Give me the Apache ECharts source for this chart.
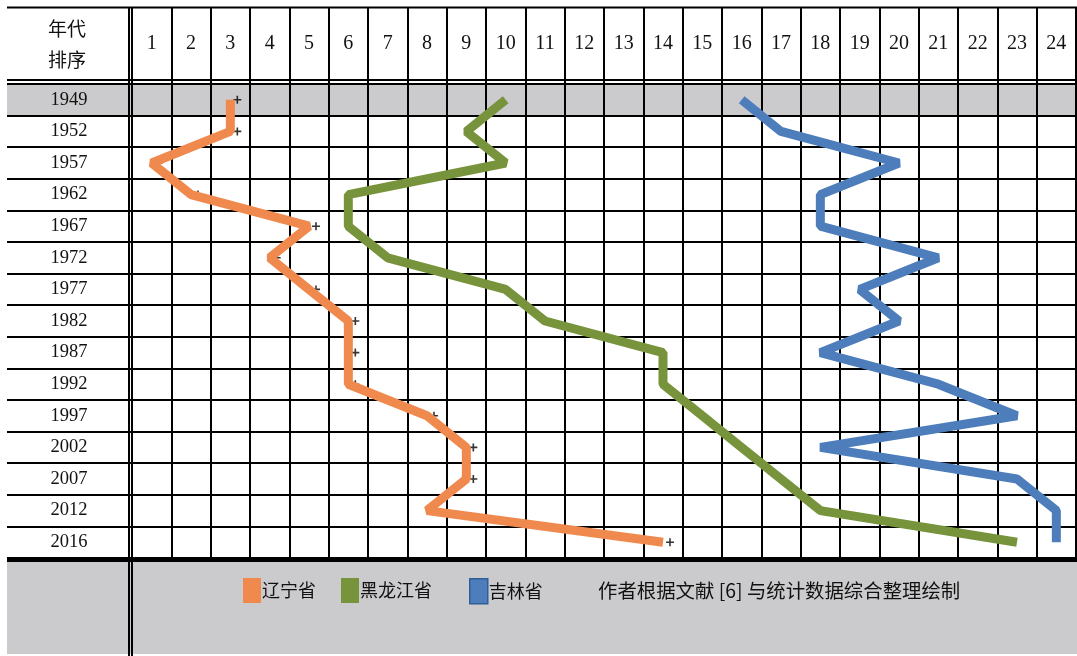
<!DOCTYPE html>
<html>
<head>
<meta charset="utf-8">
<script src="https://cdn.jsdelivr.net/npm/echarts@6/dist/echarts.min.js"></script>
<style>
html,body{margin:0;padding:0;background:#ffffff;}
#chart{width:1077px;height:656px;}
</style>
</head>
<body>
<div id="chart"></div>
<script>
// ---- data ----
const years = ['1949','1952','1957','1962','1967','1972','1977','1982','1987','1992','1997','2002','2007','2012','2016'];
const rankLabels = ['1','2','3','4','5','6','7','8','9','10','11','12','13','14','15','16','17','18','19','20','21','22','23','24'];
const liaoning     = [3, 3, 1, 2, 5, 4, 5, 6, 6, 6, 8, 9, 9, 8, 14];
const heilongjiang = [10, 9, 10, 6, 6, 7, 10, 11, 14, 14, 15, 16, 17, 18, 23];
const jilin        = [16, 17, 20, 18, 18, 21, 19, 20, 18, 21, 23, 18, 23, 24, 24];
const seriesNames  = ['辽宁省', '黑龙江省', '吉林省'];
const noteText = '作者根据文献 [6] 与统计数据综合整理绘制';
const headerTexts = ['年代', '排序'];

// ---- layout / style ----
const W = 1077, H = 656;
const gridLeft = 132, gridRight = 1, gridTop = 84, gridBottomY = 558;
const rowH = (gridBottomY - gridTop) / years.length;
const colors = ['#F0894E', '#77933C', '#4D7EBB'];
const gray = '#CBCBCD';
const ink = '#111111';
const serif = '"Liberation Serif","DejaVu Serif",serif';
const cjk = '"Noto Sans CJK SC","Noto Sans CJK JP",sans-serif';

const toPairs = arr => arr.map((v, i) => [v, years[i]]);

const chart = echarts.init(document.getElementById('chart'), null, {renderer: 'canvas', width: W, height: H});

const lineSeries = [liaoning, heilongjiang, jilin].map((arr, k) => ({
  name: seriesNames[k],
  type: 'line',
  xAxisIndex: 0,
  yAxisIndex: 0,
  data: toPairs(arr),
  symbol: 'none',
  z: 5,
  itemStyle: k === 2 ? {color: colors[k], borderColor: '#2F5E98', borderWidth: 1.5} : {color: colors[k]},
  lineStyle: {color: colors[k], width: 9, cap: 'butt', join: 'bevel'},
  emphasis: {disabled: true},
  animation: false
}));

const plusMarks = {
  name: 'marks',
  type: 'scatter',
  xAxisIndex: 0,
  yAxisIndex: 0,
  data: toPairs(liaoning),
  symbol: 'path://M4,0H6V4H10V6H6V10H4V6H0V4H4Z',
  symbolSize: 8,
  symbolOffset: [7, 0],
  itemStyle: {color: '#000'},
  z: 4,
  silent: true,
  animation: false
};

const legends = seriesNames.map((n, k) => ({
  data: [k === 2 ? {name: n, itemStyle: {borderColor: '#2F5E98', borderWidth: 1.5}} : n],
  left: [243, 341, 469][k],
  top: 578,
  icon: 'rect',
  itemWidth: 18,
  itemHeight: 25,
  selectedMode: false,
  padding: 0,
  textStyle: {fontFamily: cjk, fontSize: 18, color: ink, padding: [0, 0, 0, -4]},
  z: 10
}));

const option = {
  backgroundColor: '#ffffff',
  animation: false,
  grid: {left: gridLeft, right: gridRight, top: gridTop, bottom: H - gridBottomY, containLabel: false},
  legend: legends,
  xAxis: [
    {
      type: 'value', position: 'bottom', min: 0.5, max: 24.5, interval: 1,
      axisLine: {show: false}, axisTick: {show: false}, axisLabel: {show: false},
      splitLine: {show: true, lineStyle: {color: '#000', width: 2}}
    },
    {
      type: 'category', position: 'top', data: rankLabels, boundaryGap: true,
      axisLine: {show: false},
      axisTick: {show: true, interval: 0, length: gridTop - 7, lineStyle: {color: '#000', width: 2}},
      axisLabel: {show: true, interval: 0, margin: 40, verticalAlign: 'middle', fontFamily: serif, fontSize: 20, color: ink},
      splitLine: {show: false}
    }
  ],
  yAxis: [
    {
      type: 'category', inverse: true, data: years, boundaryGap: true,
      axisLine: {show: false},
      axisTick: {show: true, interval: 0, length: gridLeft - 7, lineStyle: {color: '#000', width: 2}},
      axisLabel: {show: true, interval: 0, margin: 63, align: 'center', fontFamily: serif, fontSize: 18.5, color: ink},
      splitLine: {show: true, interval: 0, lineStyle: {color: '#000', width: 2}}
    }
  ],
  graphic: {
    elements: [
      // gray first row
      {type: 'rect', z: -10, silent: true, shape: {x: 7, y: gridTop, width: W - 7, height: rowH}, style: {fill: gray}},
      // bottom gray area
      {type: 'rect', z: 1, silent: true, shape: {x: 7, y: gridBottomY + 2, width: W - 7, height: H - gridBottomY - 4}, style: {fill: gray}},
      // thick line under table
      {type: 'rect', z: 2, silent: true, shape: {x: 7, y: gridBottomY - 1, width: W - 7, height: 5}, style: {fill: '#000'}},
      // top border
      {type: 'line', z: 3, silent: true, shape: {x1: 7, y1: 7.5, x2: W, y2: 7.5}, style: {stroke: '#000', lineWidth: 2}},
      // header double line
      {type: 'line', z: 3, silent: true, shape: {x1: 7, y1: 80, x2: W, y2: 80}, style: {stroke: '#000', lineWidth: 2}},
      {type: 'line', z: 3, silent: true, shape: {x1: 7, y1: gridTop, x2: W, y2: gridTop}, style: {stroke: '#000', lineWidth: 2}},
      // left double vertical line
      {type: 'line', z: 3, silent: true, shape: {x1: 129, y1: 7, x2: 129, y2: H}, style: {stroke: '#000', lineWidth: 2}},
      {type: 'line', z: 3, silent: true, shape: {x1: gridLeft, y1: 7, x2: gridLeft, y2: H}, style: {stroke: '#000', lineWidth: 2}},
      // header corner text
      {type: 'text', z: 3, silent: true, x: 67, y: 29, style: {text: headerTexts[0], fontFamily: cjk, fontSize: 19, fill: ink, align: 'center', verticalAlign: 'middle'}},
      {type: 'text', z: 3, silent: true, x: 67, y: 60, style: {text: headerTexts[1], fontFamily: cjk, fontSize: 19, fill: ink, align: 'center', verticalAlign: 'middle'}},
      // source note
      {type: 'text', z: 3, silent: true, x: 598, y: 591, style: {text: noteText, fontFamily: cjk, fontSize: 19.4, fill: ink, align: 'left', verticalAlign: 'middle'}}
    ]
  },
  series: [plusMarks].concat(lineSeries)
};

chart.setOption(option);
</script>
</body>
</html>
